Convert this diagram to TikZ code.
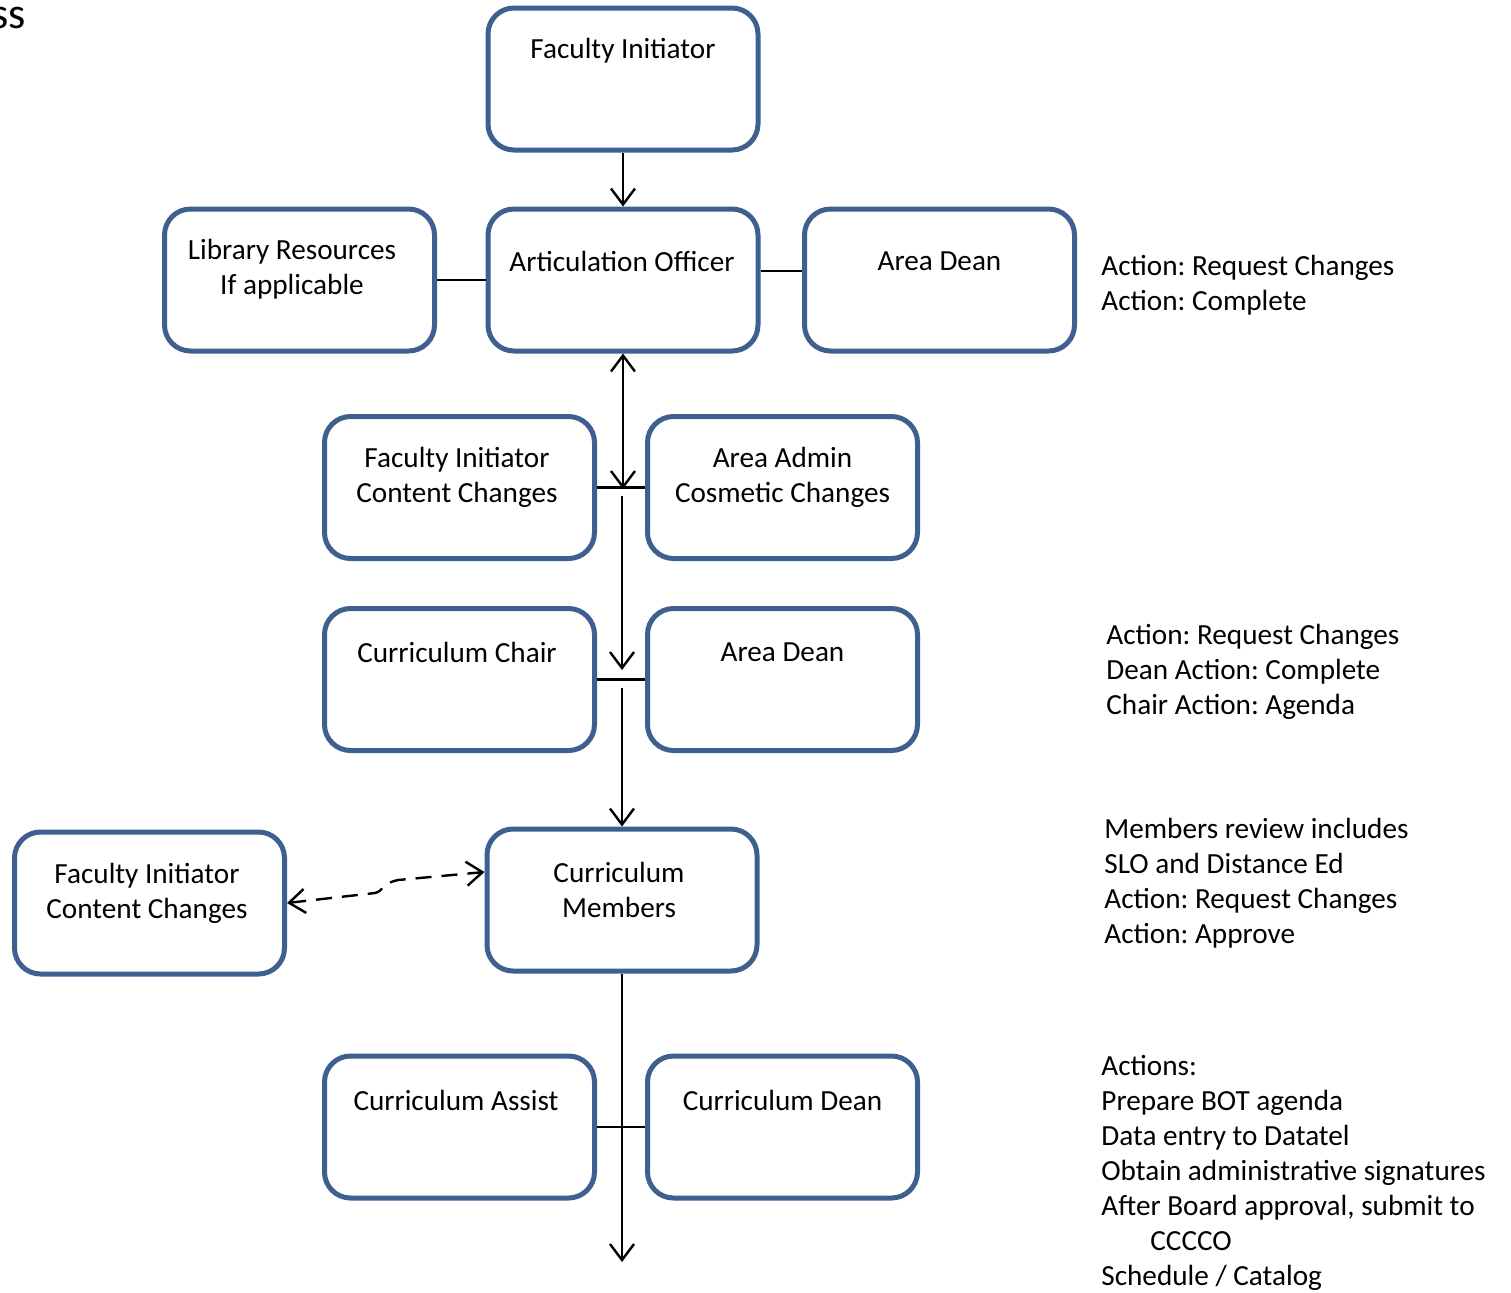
\documentclass[tikz,border=0pt]{standalone}
\usepackage{fontspec}
\setmainfont{Carlito}
\usetikzlibrary{arrows.meta}
\frenchspacing

\definecolor{boxblue}{RGB}{61,96,143}

\tikzset{
  box/.style={draw=boxblue, line width=2.5pt, rounded corners=13pt,
    minimum width=135pt, minimum height=71pt, inner sep=0pt},
  lbl/.style={align=center, inner sep=0pt, font=\fontsize{14.6}{17.5}\selectfont},
  note/.style={align=left, anchor=west, inner sep=0pt, font=\fontsize{14.6}{17.5}\selectfont},
  flow/.style={line width=1.2pt, -{Straight Barb[length=8pt,width=12pt,line width=1.2pt]}},
  twoway/.style={line width=1.2pt, {Straight Barb[length=8pt,width=12pt,line width=1.2pt]}-{Straight Barb[length=8pt,width=12pt,line width=1.2pt]}},
  tie/.style={line width=1.2pt}
}

\begin{document}
\begin{tikzpicture}[x=0.5pt, y=-0.5pt]
        \useasboundingbox (0,0) rectangle (1511,1292);

        % title remnant
        \node[anchor=base east, inner sep=0pt, font=\fontsize{22}{26}\selectfont] (ttl) at (26,28) {ss};

        % boxes
        \node[box] (fi)  at (623,79) {};
        \node[box] (lib) at (299.5,280) {};
        \node[box] (ao)  at (623,280) {};
        \node[box] (ad1) at (939.5,280) {};
        \node[box] (fic) at (459.5,487.5) {};
        \node[box] (aac) at (782.5,487.5) {};
        \node[box] (cc)  at (459.5,679.5) {};
        \node[box] (ad2) at (782.5,679.5) {};
        \node[box] (fil) at (149.5,903) {};
        \node[box] (cm)  at (622,900) {};
        \node[box] (ca)  at (459.5,1127) {};
        \node[box] (cd)  at (782.5,1127) {};

        % box texts
        \node[lbl] (fi-t)  at (623,51) {Faculty Initiator};
        \node[lbl] (lib-t) at (292,269.5) {Library Resources\\If applicable};
        \node[lbl] (ao-t)  at (622,261) {Articulation Officer};
        \node[lbl] (ad1-t) at (939.5,261) {Area Dean};
        \node[lbl] (fic-t) at (457,477.5) {Faculty Initiator\\Content Changes};
        \node[lbl] (aac-t) at (782.5,477.5) {Area Admin\\Cosmetic Changes};
        \node[lbl] (cc-t)  at (457,652) {Curriculum Chair};
        \node[lbl] (ad2-t) at (782.5,652) {Area Dean};
        \node[lbl] (fil-t) at (147,893.5) {Faculty Initiator\\Content Changes};
        \node[lbl] (cm-t)  at (619,890) {Curriculum\\Members};
        \node[lbl] (ca-t)  at (456,1100) {Curriculum Assist};
        \node[lbl] (cd-t)  at (782.5,1100) {Curriculum Dean};

        % notes on the right
        \node[note] (n1) at (1101,285.5) {Action: Request Changes\\Action: Complete};
        \node[note] (n2) at (1106,672) {Action: Request Changes\\Dean Action: Complete\\Chair Action: Agenda};
        \node[note] (n3) at (1104,883) {Members review includes\\SLO and Distance Ed\\Action: Request Changes\\Action: Approve};
        \node[note] (n4) at (1101,1173) {Actions:\\Prepare BOT agenda\\Data entry to Datatel\\Obtain administrative signatures\\After Board approval, submit to\\\hspace*{24.5pt}CCCCO\\Schedule / Catalog};

        % junction points
        \coordinate (j1) at (623,489);
        \coordinate (j2a) at (622,496);
        \coordinate (j2) at (622,670);
        \coordinate (j3) at (622,688);
        \coordinate (fin) at (622,1262);

        % connectors
        \draw[flow] (fi) -- (ao);
        \draw[tie] (lib.east) -- (ao.west);
        \draw[tie] ([yshift=4.5pt]ao.east) -- ([yshift=4.5pt]ad1.west);
        \draw[twoway] (ao.south) -- (j1);
        \draw[tie] (fic.east) -- (aac.west);
        \draw[flow] (j2a) -- (j2);
        \draw[tie] (cc.east) -- (ad2.west);
        \draw[flow] (j3) -- (cm.north);
        \draw[twoway, dashed, dash pattern=on 8pt off 5pt]
            (fil.east) -- (375,893) .. controls (384,891) and (380,884) .. (398,880) -- ([yshift=14pt]cm.west);
        \draw[flow] (cm.south) -- (fin);
        \draw[tie] (ca.east) -- (cd.west);
\end{tikzpicture}
\end{document}
